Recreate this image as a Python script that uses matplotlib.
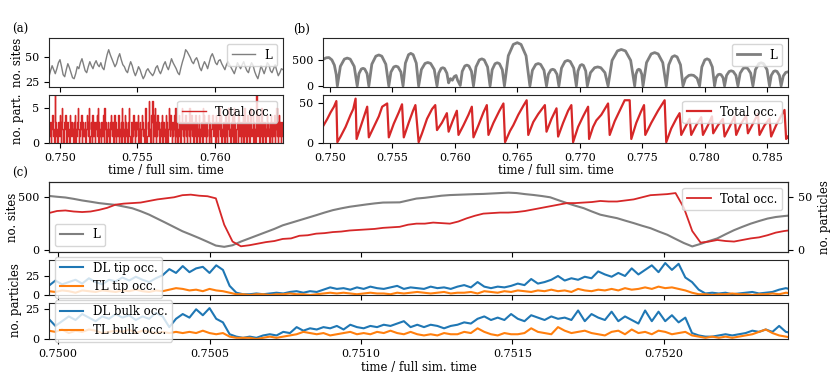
import numpy as np
import matplotlib
matplotlib.use("Agg")
import matplotlib.pyplot as plt
from matplotlib.ticker import FormatStrFormatter

plt.rcParams['font.family'] = 'DejaVu Serif'
plt.rcParams['font.size'] = 8.5
plt.rcParams['xtick.labelsize'] = 8
plt.rcParams['ytick.labelsize'] = 8
plt.rcParams['axes.edgecolor'] = '0.15'

GRAY = '#7f7f7f'
RED = '#d62728'
BLUE = '#1f77b4'
ORANGE = '#ff7f0e'

# ---------------- panel (a) ----------------
a_tmin, a_tmax = 0.7493, 0.7644
a_L = [30, 36, 41, 37, 33, 38, 44, 47, 40, 32, 30, 37, 43, 39, 34, 29, 28, 33, 40, 38,
       44, 48, 42, 36, 34, 40, 45, 41, 38, 43, 46, 42, 40, 44, 39, 37, 45, 52, 57, 52,
       48, 44, 40, 43, 49, 53, 47, 42, 40, 36, 34, 40, 45, 41, 35, 31, 35, 40, 37, 32,
       28, 31, 36, 38, 35, 33, 31, 34, 39, 41, 36, 33, 37, 42, 45, 40, 37, 42, 48, 44,
       41, 38, 34, 32, 39, 45, 50, 57, 55, 52, 49, 45, 43, 47, 49, 45, 39, 36, 41, 45,
       42, 38, 44, 50, 53, 49, 44, 42, 46, 47, 43, 40, 37, 42, 45, 42, 39, 36, 33, 38,
       44, 41, 38, 42, 45, 40, 36, 34, 40, 44, 41, 35, 31, 28, 34, 41, 37, 33, 38, 44,
       42, 36, 34, 38, 42, 36, 31, 34, 38, 37]
a_occ_digits = ("21302431207312023142" "03520132402312043213" "20314021352013240312"
                "13024312501320413203" "24150312032140523102" "31203421302413021340"
                "21305312041320235102" "30214203132402130243" "12035401326120436041"
                "52031423021340231204" "13025314203124051320" "24130352130241302315"
                "02413203142031240213" "30524130213402310243" "12304213025314021320"
                "41302351203142053102" "23041320314025130241" "30253124031207312403"
                "21540312302413203142" "03124025130241302132")
a_occ = [int(c) for c in a_occ_digits]

# ---------------- panel (b) ----------------
b_L_t = [0.74949, 0.74970, 0.74992, 0.75015, 0.75035, 0.75050, 0.75059,
         0.75083, 0.75115, 0.75138, 0.75162, 0.75194, 0.75218,
         0.75232, 0.75251, 0.75265, 0.75278, 0.75297, 0.75311,
         0.75335, 0.75367, 0.75391, 0.75415, 0.75447, 0.75471,
         0.75488, 0.75511, 0.75528, 0.75545, 0.75568, 0.75585,
         0.75604, 0.75629, 0.75647, 0.75666, 0.75691, 0.75710,
         0.75732, 0.75761, 0.75783, 0.75806, 0.75835, 0.75857,
         0.75871, 0.75890, 0.75903, 0.75917, 0.75936, 0.75950,
         0.75965, 0.75980, 0.75995, 0.76010, 0.76022, 0.76043,
         0.76059, 0.76080, 0.76096, 0.76112, 0.76133, 0.76149,
         0.76169, 0.76196, 0.76216, 0.76235, 0.76262, 0.76282,
         0.76299, 0.76322, 0.76340, 0.76357, 0.76380, 0.76397,
         0.76428, 0.76468, 0.76500, 0.76530, 0.76570, 0.76601,
         0.76621, 0.76648, 0.76668, 0.76687, 0.76714, 0.76734,
         0.76749, 0.76769, 0.76783, 0.76798, 0.76818, 0.76833,
         0.76854, 0.76882, 0.76903, 0.76924, 0.76952, 0.76973,
         0.76986, 0.77004, 0.77017, 0.77030, 0.77048, 0.77061,
         0.77086, 0.77119, 0.77144, 0.77169, 0.77202, 0.77227,
         0.77259, 0.77302, 0.77333, 0.77366, 0.77408, 0.77440,
         0.77450, 0.77463, 0.77473, 0.77484, 0.77497, 0.77507,
         0.77535, 0.77572, 0.77600, 0.77628, 0.77665, 0.77693,
         0.77713, 0.77740, 0.77760, 0.77780, 0.77807, 0.77827,
         0.77847, 0.77874, 0.77893, 0.77913, 0.77940, 0.77960,
         0.77978, 0.78002, 0.78020, 0.78038, 0.78062, 0.78080,
         0.78092, 0.78108, 0.78120, 0.78132, 0.78148, 0.78160,
         0.78176, 0.78197, 0.78213, 0.78229, 0.78251, 0.78267,
         0.78285, 0.78309, 0.78327, 0.78345, 0.78369, 0.78387,
         0.78407, 0.78434, 0.78453, 0.78473, 0.78500, 0.78520,
         0.78534, 0.78553, 0.78566, 0.78580, 0.78599, 0.78613,
         0.78630, 0.78650, 0.78667]
b_L_v = [515, 540, 545, 500, 400, 220, 0,
         375, 515, 535, 515, 375, 0,
         237, 325, 338, 325, 237, 0,
         417, 571, 595, 571, 417, 0,
         266, 365, 380, 365, 266, 0,
         438, 600, 625, 600, 438, 0,
         315, 432, 450, 432, 315, 0,
         245, 336, 350, 336, 245, 60,
         140, 110, 180, 200, 110, 10,
         280, 384, 400, 384, 280, 0,
         364, 500, 520, 500, 364, 0,
         312, 427, 445, 427, 312, 0,
         580, 797, 830, 797, 580, 0,
         300, 413, 430, 413, 300, 0,
         224, 307, 320, 307, 224, 0,
         343, 470, 490, 470, 343, 0,
         287, 394, 410, 394, 287, 0,
         255, 350, 365, 350, 255, 0,
         490, 672, 700, 672, 490, 0,
         224, 307, 320, 307, 224, 0,
         448, 614, 640, 614, 448, 0,
         406, 557, 580, 557, 406, 0,
         147, 202, 210, 202, 147, 0,
         364, 500, 520, 500, 364, 0,
         158, 216, 225, 216, 158, 0,
         203, 278, 290, 278, 203, 0,
         245, 336, 350, 336, 245, 0,
         312, 427, 445, 427, 312, 0,
         203, 278, 290, 278, 203, 0,
         190, 260, 270]

b_occ_t = [0.74949, 0.74979, 0.75005, 0.75032, 0.75051,
           0.75059, 0.75085, 0.75125, 0.75165, 0.75186, 0.75205,
           0.75213, 0.75245, 0.75277, 0.75298,
           0.75311, 0.75351, 0.75391, 0.75418, 0.75458,
           0.75471, 0.75511, 0.75551, 0.75577,
           0.75591, 0.75630, 0.75665, 0.75684,
           0.75710, 0.75737, 0.75777, 0.75817, 0.75843,
           0.75857, 0.75896, 0.75936,
           0.75950, 0.75984, 0.76016,
           0.76029, 0.76069, 0.76109, 0.76136,
           0.76149, 0.76189, 0.76229, 0.76256,
           0.76269, 0.76309, 0.76357, 0.76389,
           0.76402, 0.76442, 0.76468, 0.76508, 0.76548, 0.76575,
           0.76588, 0.76628, 0.76668, 0.76721,
           0.76734, 0.76774, 0.76814,
           0.76827, 0.76867, 0.76907, 0.76933,
           0.76947, 0.76987, 0.77027, 0.77067,
           0.77075, 0.77107, 0.77133, 0.77173, 0.77227,
           0.77240, 0.77280, 0.77320, 0.77360, 0.77400,
           0.77413, 0.77453, 0.77488, 0.77515,
           0.77525, 0.77573, 0.77627, 0.77680,
           0.77693, 0.77733, 0.77773, 0.77800,
           0.77813, 0.77853, 0.77880,
           0.77893, 0.77933, 0.77973,
           0.77987, 0.78027, 0.78059,
           0.78069, 0.78107, 0.78147,
           0.78160, 0.78200, 0.78240,
           0.78253, 0.78293, 0.78333,
           0.78347, 0.78387, 0.78427,
           0.78440, 0.78480, 0.78520,
           0.78533, 0.78573, 0.78600, 0.78640,
           0.78653, 0.78667]
b_occ_v = [22, 30, 38, 45, 52,
           1, 8, 20, 35, 42, 55,
           5, 20, 35, 45,
           7, 20, 33, 45, 49,
           7, 24, 38, 48,
           7, 25, 40, 47,
           1, 12, 30, 42, 47,
           16, 25, 37,
           14, 28, 40,
           10, 22, 35, 45,
           7, 22, 38, 47,
           10, 25, 40, 49,
           1, 15, 22, 35, 46, 53,
           10, 26, 36, 47,
           14, 30, 43,
           8, 25, 40, 47,
           1, 20, 33, 45,
           5, 20, 28, 35, 49,
           10, 27, 40, 53, 53,
           5, 25, 38, 47,
           10, 25, 40, 53,
           1, 18, 30, 37,
           10, 22, 30,
           10, 22, 32,
           10, 22, 33,
           12, 22, 30,
           8, 20, 33,
           10, 24, 34,
           12, 24, 36,
           10, 22, 30,
           8, 22, 30, 41,
           5, 8]

# ---------------- panel (c) ----------------
c_tmin, c_tmax = 0.749969, 0.752425
c_L = [513, 505, 498, 485, 470, 458, 445, 436, 428, 412, 396, 368, 336, 297, 258, 218,
       178, 146, 113, 78, 42, 30, 45, 80, 110, 140, 170, 200, 234, 258, 282, 306,
       330, 355, 378, 395, 410, 421, 432, 442, 450, 451, 452, 470, 488, 495, 505, 515,
       521, 524, 527, 530, 532, 536, 540, 544, 540, 530, 522, 512, 500, 472, 445, 420,
       397, 365, 335, 318, 302, 278, 255, 230, 207, 175, 145, 105, 66, 34, 58, 85,
       110, 150, 188, 220, 250, 275, 298, 313, 322, 330]
c_occ = [35, 37, 37.5, 36.5, 36, 36.5, 38, 40, 43, 44, 44.5, 45, 46.5, 48, 49, 50,
         52, 52.5, 51.5, 51, 49, 24, 8, 3.5, 4.5, 6, 7.5, 8.5, 10.5, 11, 13.5, 14,
         15.5, 16, 17, 17.5, 18.5, 19, 19.5, 20, 21, 21.5, 22, 24, 25, 25, 26, 25.5,
         25, 27, 30, 32.5, 34.5, 35, 35.5, 35.5, 36, 37, 38.5, 40, 41.5, 43, 44.5, 44.5,
         45, 45.5, 46.5, 46, 46, 47, 48, 50, 52, 52.5, 53, 54, 40, 18, 7, 8,
         9.5, 8.5, 8, 9.5, 11, 12, 14, 16.5, 18, 19]

dl_tip = [12, 19, 14, 17, 20, 15, 22, 17, 14, 20, 18, 23, 19, 24, 20, 17, 22, 26, 34, 29,
          38, 30, 35, 37, 29, 39, 33, 12, 3, 1, 1, 2, 1, 2, 3, 2, 4, 5, 3, 5,
          4, 7, 10, 8, 9, 7, 10, 8, 11, 9, 8, 10, 12, 8, 10, 9, 8, 11, 9, 10,
          8, 11, 13, 10, 17, 11, 9, 11, 10, 12, 15, 13, 21, 15, 17, 20, 25, 19, 22, 20,
          24, 22, 31, 27, 24, 29, 25, 35, 27, 33, 39, 30, 42, 33, 41, 23, 17, 7, 2, 3,
          2, 3, 1, 2, 3, 4, 2, 3, 4, 7, 9, 7]
tl_tip = [5, 4, 6, 5, 3, 6, 5, 4, 6, 5, 4, 6, 5, 7, 5, 4, 6, 5, 7, 9,
          8, 6, 7, 5, 8, 6, 5, 3, 1, 1, 0, 1, 1, 0, 1, 1, 2, 1, 1, 0,
          1, 2, 3, 2, 3, 2, 1, 2, 3, 2, 2, 1, 3, 2, 3, 4, 3, 2, 3, 4,
          2, 3, 3, 4, 2, 5, 4, 3, 5, 4, 6, 5, 4, 6, 5, 7, 5, 6, 4, 8,
          6, 5, 7, 6, 8, 6, 9, 7, 8, 10, 8, 11, 9, 10, 8, 6, 3, 1, 1, 0,
          1, 1, 2, 1, 1, 0, 1, 1, 2, 1, 3, 2]
dl_bulk = [17, 11, 15, 19, 16, 21, 18, 15, 19, 17, 21, 18, 20, 16, 19, 17, 22, 19, 10, 17,
           21, 18, 25, 20, 26, 17, 14, 4, 2, 1, 2, 1, 3, 4, 3, 6, 5, 10, 7, 9,
           8, 10, 9, 11, 8, 12, 10, 9, 11, 10, 12, 11, 13, 15, 10, 12, 10, 12, 11, 9,
           11, 12, 14, 13, 17, 19, 16, 18, 16, 21, 17, 15, 20, 18, 16, 19, 17, 18, 16, 24,
           15, 21, 18, 16, 23, 15, 19, 16, 13, 24, 15, 23, 15, 20, 14, 18, 5, 3, 2, 2,
           3, 4, 3, 4, 5, 7, 6, 8, 6, 11, 6, 5]
tl_bulk = [7, 6, 8, 5, 7, 6, 8, 7, 5, 6, 7, 6, 8, 5, 7, 6, 5, 6, 5, 6,
           5, 6, 5, 7, 5, 4, 5, 2, 1, 1, 1, 0, 1, 2, 1, 2, 3, 4, 6, 5,
           4, 5, 3, 4, 5, 6, 4, 5, 4, 6, 5, 7, 5, 4, 6, 4, 3, 4, 3, 5,
           4, 4, 6, 5, 9, 6, 4, 3, 5, 4, 4, 5, 9, 6, 5, 4, 10, 7, 5, 6,
           7, 5, 4, 3, 6, 7, 4, 8, 5, 6, 4, 7, 6, 4, 5, 6, 3, 2, 1, 2,
           1, 2, 1, 2, 3, 4, 6, 8, 5, 3, 2, 1]


def frac(left, top, right, bottom):
    W, H = 830.0, 385.0
    return [left / W, 1 - bottom / H, (right - left) / W, (bottom - top) / H]


fig = plt.figure(figsize=(8.3, 3.85), dpi=100)

# (a)
ax_a1 = fig.add_axes(frac(49, 38, 283, 87))
ax_a2 = fig.add_axes(frac(49, 95, 283, 143))
t_aL = np.linspace(a_tmin, a_tmax, len(a_L))
t_aocc = np.linspace(a_tmin, a_tmax, len(a_occ))
ax_a1.plot(t_aL, a_L, color=GRAY, lw=1.0, label='L')
ax_a2.plot(t_aocc, a_occ, color=RED, lw=1.0, drawstyle='steps-post', label='Total occ.')
for ax in (ax_a1, ax_a2):
    ax.set_xlim(a_tmin, a_tmax)
    ax.set_xticks([0.750, 0.755, 0.760])
    ax.legend(loc='upper right')
ax_a1.set_ylim(19.7, 68.7)
ax_a1.set_yticks([25, 50])
ax_a1.set_xticklabels([])
ax_a2.set_ylim(0, 6.8)
ax_a2.set_yticks([0, 5])
ax_a2.xaxis.set_major_formatter(FormatStrFormatter('%.3f'))
ax_a1.set_ylabel('no. sites')
ax_a2.set_ylabel('no. part.')
ax_a1.yaxis.set_label_coords((24 - 49) / 234, 0.5)
ax_a2.yaxis.set_label_coords((24 - 49) / 234, 0.5)
ax_a2.set_xlabel('time / full sim. time', labelpad=1)

# (b)
ax_b1 = fig.add_axes(frac(323, 38, 788, 87))
ax_b2 = fig.add_axes(frac(323, 95, 788, 143))
ax_b1.plot(b_L_t, b_L_v, color=GRAY, lw=2.0, label='L')
ax_b2.plot(b_occ_t, b_occ_v, color=RED, lw=1.6, label='Total occ.')
b_ticks = [0.750, 0.755, 0.760, 0.765, 0.770, 0.775, 0.780, 0.785]
for ax in (ax_b1, ax_b2):
    ax.set_xlim(0.74944, 0.78668)
    ax.set_xticks(b_ticks)
    ax.legend(loc='upper right')
ax_b1.set_ylim(-20, 920)
ax_b1.set_yticks([0, 500])
ax_b1.set_xticklabels([])
ax_b2.set_ylim(0, 59.5)
ax_b2.set_yticks([0, 50])
ax_b2.xaxis.set_major_formatter(FormatStrFormatter('%.3f'))
ax_b2.set_xlabel('time / full sim. time', labelpad=1)

# (c)
ax_c1 = fig.add_axes(frac(49, 182, 788, 252))
ax_c2 = fig.add_axes(frac(49, 260, 788, 295))
ax_c3 = fig.add_axes(frac(49, 303, 788, 339))
ax_c1r = ax_c1.twinx()

ax_c1.plot(np.linspace(c_tmin, c_tmax, len(c_L)), c_L, color=GRAY, lw=1.5, label='L')
ax_c1r.plot(np.linspace(c_tmin, c_tmax, len(c_occ)), c_occ, color=RED, lw=1.3, label='Total occ.')
t_c = np.linspace(c_tmin, c_tmax, len(dl_tip))
ax_c2.plot(t_c, dl_tip, color=BLUE, lw=1.5, label='DL tip occ.')
ax_c2.plot(np.linspace(c_tmin, c_tmax, len(tl_tip)), tl_tip, color=ORANGE, lw=1.5, label='TL tip occ.')
ax_c3.plot(np.linspace(c_tmin, c_tmax, len(dl_bulk)), dl_bulk, color=BLUE, lw=1.5, label='DL bulk occ.')
ax_c3.plot(np.linspace(c_tmin, c_tmax, len(tl_bulk)), tl_bulk, color=ORANGE, lw=1.5, label='TL bulk occ.')

c_ticks = [0.7500, 0.7505, 0.7510, 0.7515, 0.7520]
for ax in (ax_c1, ax_c2, ax_c3):
    ax.set_xlim(0.74997, 0.75241)
    ax.set_xticks(c_ticks)
ax_c1.set_xticklabels([])
ax_c2.set_xticklabels([])
ax_c3.xaxis.set_major_formatter(FormatStrFormatter('%.4f'))

ax_c1.set_ylim(-19, 645)
ax_c1.set_yticks([0, 500])
ax_c1r.set_ylim(-1.9, 64.5)
ax_c1r.set_yticks([0, 50])
ax_c1.set_ylabel('no. sites')
ax_c1.yaxis.set_label_coords((19 - 49) / 739, 0.5)
ax_c1r.set_ylabel('no. particles')
ax_c1.legend(loc='lower left')
ax_c1r.legend(loc='upper right')

ax_c2.set_ylim(0, 46)
ax_c2.set_yticks([0, 25])
ax_c3.set_ylim(0, 30.3)
ax_c3.set_yticks([0, 25])
ax_c2.legend(loc='center left')
ax_c3.legend(loc='center left')
ax_c3.set_xlabel('time / full sim. time', labelpad=2)
fig.text(15 / 830, 1 - 300 / 385, 'no. particles', rotation=90, ha='center', va='center')

fig.text(12 / 830, 1 - 29 / 385, '(a)', va='center')
fig.text(293 / 830, 1 - 29 / 385, '(b)', va='center')
fig.text(12 / 830, 1 - 173 / 385, '(c)', va='center')

fig.savefig('out.png', dpi=100)
